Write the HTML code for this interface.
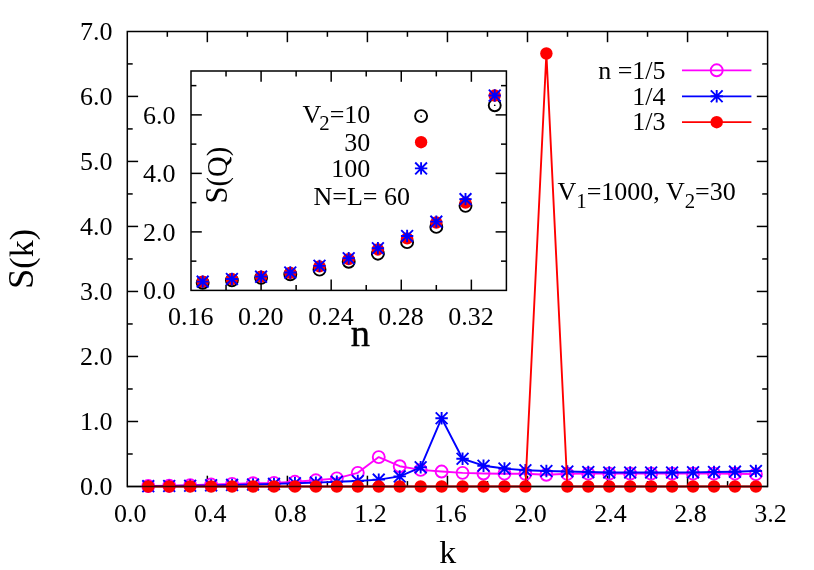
<!DOCTYPE html>
<html><head><meta charset="utf-8"><title>S(k)</title>
<style>
html,body{margin:0;padding:0;background:#fff;}
body{width:814px;height:570px;overflow:hidden;}
svg{display:block;will-change:transform;}
svg text{font-family:"Liberation Serif",serif;fill:#000;}
</style></head><body>
<svg width="814" height="570" viewBox="0 0 814 570">
<rect x="0" y="0" width="814" height="570" fill="#fff"/>
<line x1="167.32" y1="486.50" x2="167.32" y2="481.10" stroke="#000" stroke-width="1.5" />
<line x1="167.32" y1="31.40" x2="167.32" y2="36.80" stroke="#000" stroke-width="1.5" />
<line x1="207.34" y1="486.50" x2="207.34" y2="475.70" stroke="#000" stroke-width="1.5" />
<line x1="207.34" y1="31.40" x2="207.34" y2="42.20" stroke="#000" stroke-width="1.5" />
<line x1="247.36" y1="486.50" x2="247.36" y2="481.10" stroke="#000" stroke-width="1.5" />
<line x1="247.36" y1="31.40" x2="247.36" y2="36.80" stroke="#000" stroke-width="1.5" />
<line x1="287.38" y1="486.50" x2="287.38" y2="475.70" stroke="#000" stroke-width="1.5" />
<line x1="287.38" y1="31.40" x2="287.38" y2="42.20" stroke="#000" stroke-width="1.5" />
<line x1="327.39" y1="486.50" x2="327.39" y2="481.10" stroke="#000" stroke-width="1.5" />
<line x1="327.39" y1="31.40" x2="327.39" y2="36.80" stroke="#000" stroke-width="1.5" />
<line x1="367.41" y1="486.50" x2="367.41" y2="475.70" stroke="#000" stroke-width="1.5" />
<line x1="367.41" y1="31.40" x2="367.41" y2="42.20" stroke="#000" stroke-width="1.5" />
<line x1="407.43" y1="486.50" x2="407.43" y2="481.10" stroke="#000" stroke-width="1.5" />
<line x1="407.43" y1="31.40" x2="407.43" y2="36.80" stroke="#000" stroke-width="1.5" />
<line x1="447.45" y1="486.50" x2="447.45" y2="475.70" stroke="#000" stroke-width="1.5" />
<line x1="447.45" y1="31.40" x2="447.45" y2="42.20" stroke="#000" stroke-width="1.5" />
<line x1="487.47" y1="486.50" x2="487.47" y2="481.10" stroke="#000" stroke-width="1.5" />
<line x1="487.47" y1="31.40" x2="487.47" y2="36.80" stroke="#000" stroke-width="1.5" />
<line x1="527.49" y1="486.50" x2="527.49" y2="475.70" stroke="#000" stroke-width="1.5" />
<line x1="527.49" y1="31.40" x2="527.49" y2="42.20" stroke="#000" stroke-width="1.5" />
<line x1="567.51" y1="486.50" x2="567.51" y2="481.10" stroke="#000" stroke-width="1.5" />
<line x1="567.51" y1="31.40" x2="567.51" y2="36.80" stroke="#000" stroke-width="1.5" />
<line x1="607.53" y1="486.50" x2="607.53" y2="475.70" stroke="#000" stroke-width="1.5" />
<line x1="607.53" y1="31.40" x2="607.53" y2="42.20" stroke="#000" stroke-width="1.5" />
<line x1="647.54" y1="486.50" x2="647.54" y2="481.10" stroke="#000" stroke-width="1.5" />
<line x1="647.54" y1="31.40" x2="647.54" y2="36.80" stroke="#000" stroke-width="1.5" />
<line x1="687.56" y1="486.50" x2="687.56" y2="475.70" stroke="#000" stroke-width="1.5" />
<line x1="687.56" y1="31.40" x2="687.56" y2="42.20" stroke="#000" stroke-width="1.5" />
<line x1="727.58" y1="486.50" x2="727.58" y2="481.10" stroke="#000" stroke-width="1.5" />
<line x1="727.58" y1="31.40" x2="727.58" y2="36.80" stroke="#000" stroke-width="1.5" />
<line x1="127.30" y1="453.99" x2="132.70" y2="453.99" stroke="#000" stroke-width="1.5" />
<line x1="767.60" y1="453.99" x2="762.20" y2="453.99" stroke="#000" stroke-width="1.5" />
<line x1="127.30" y1="421.49" x2="138.10" y2="421.49" stroke="#000" stroke-width="1.5" />
<line x1="767.60" y1="421.49" x2="756.80" y2="421.49" stroke="#000" stroke-width="1.5" />
<line x1="127.30" y1="388.98" x2="132.70" y2="388.98" stroke="#000" stroke-width="1.5" />
<line x1="767.60" y1="388.98" x2="762.20" y2="388.98" stroke="#000" stroke-width="1.5" />
<line x1="127.30" y1="356.47" x2="138.10" y2="356.47" stroke="#000" stroke-width="1.5" />
<line x1="767.60" y1="356.47" x2="756.80" y2="356.47" stroke="#000" stroke-width="1.5" />
<line x1="127.30" y1="323.96" x2="132.70" y2="323.96" stroke="#000" stroke-width="1.5" />
<line x1="767.60" y1="323.96" x2="762.20" y2="323.96" stroke="#000" stroke-width="1.5" />
<line x1="127.30" y1="291.46" x2="138.10" y2="291.46" stroke="#000" stroke-width="1.5" />
<line x1="767.60" y1="291.46" x2="756.80" y2="291.46" stroke="#000" stroke-width="1.5" />
<line x1="127.30" y1="258.95" x2="132.70" y2="258.95" stroke="#000" stroke-width="1.5" />
<line x1="767.60" y1="258.95" x2="762.20" y2="258.95" stroke="#000" stroke-width="1.5" />
<line x1="127.30" y1="226.44" x2="138.10" y2="226.44" stroke="#000" stroke-width="1.5" />
<line x1="767.60" y1="226.44" x2="756.80" y2="226.44" stroke="#000" stroke-width="1.5" />
<line x1="127.30" y1="193.94" x2="132.70" y2="193.94" stroke="#000" stroke-width="1.5" />
<line x1="767.60" y1="193.94" x2="762.20" y2="193.94" stroke="#000" stroke-width="1.5" />
<line x1="127.30" y1="161.43" x2="138.10" y2="161.43" stroke="#000" stroke-width="1.5" />
<line x1="767.60" y1="161.43" x2="756.80" y2="161.43" stroke="#000" stroke-width="1.5" />
<line x1="127.30" y1="128.92" x2="132.70" y2="128.92" stroke="#000" stroke-width="1.5" />
<line x1="767.60" y1="128.92" x2="762.20" y2="128.92" stroke="#000" stroke-width="1.5" />
<line x1="127.30" y1="96.41" x2="138.10" y2="96.41" stroke="#000" stroke-width="1.5" />
<line x1="767.60" y1="96.41" x2="756.80" y2="96.41" stroke="#000" stroke-width="1.5" />
<line x1="127.30" y1="63.91" x2="132.70" y2="63.91" stroke="#000" stroke-width="1.5" />
<line x1="767.60" y1="63.91" x2="762.20" y2="63.91" stroke="#000" stroke-width="1.5" />
<text x="130.30" y="522.00" font-size="26" text-anchor="middle" >0.0</text>
<text x="210.34" y="522.00" font-size="26" text-anchor="middle" >0.4</text>
<text x="290.38" y="522.00" font-size="26" text-anchor="middle" >0.8</text>
<text x="370.41" y="522.00" font-size="26" text-anchor="middle" >1.2</text>
<text x="450.45" y="522.00" font-size="26" text-anchor="middle" >1.6</text>
<text x="530.49" y="522.00" font-size="26" text-anchor="middle" >2.0</text>
<text x="610.53" y="522.00" font-size="26" text-anchor="middle" >2.4</text>
<text x="690.56" y="522.00" font-size="26" text-anchor="middle" >2.8</text>
<text x="770.60" y="522.00" font-size="26" text-anchor="middle" >3.2</text>
<text x="112.40" y="495.30" font-size="26" text-anchor="end" >0.0</text>
<text x="112.40" y="430.29" font-size="26" text-anchor="end" >1.0</text>
<text x="112.40" y="365.27" font-size="26" text-anchor="end" >2.0</text>
<text x="112.40" y="300.26" font-size="26" text-anchor="end" >3.0</text>
<text x="112.40" y="235.24" font-size="26" text-anchor="end" >4.0</text>
<text x="112.40" y="170.23" font-size="26" text-anchor="end" >5.0</text>
<text x="112.40" y="105.21" font-size="26" text-anchor="end" >6.0</text>
<text x="112.40" y="40.20" font-size="26" text-anchor="end" >7.0</text>
<line x1="127.30" y1="486.50" x2="767.60" y2="486.50" stroke="#000" stroke-width="1.5" />
<polyline points="148.25,485.98 169.21,485.72 190.16,485.20 211.12,484.55 232.07,483.90 253.02,483.25 273.98,482.92 294.93,481.82 315.88,480.32 336.84,478.37 357.79,472.85 378.75,457.11 399.70,466.22 420.65,469.92 441.61,471.55 462.56,472.85 483.51,473.50 504.47,473.69 525.42,473.82 546.38,474.80 567.33,473.82 588.28,473.63 609.24,473.63 630.19,473.63 651.14,473.63 672.10,473.63 693.05,473.63 714.01,473.63 734.96,473.69 755.91,474.15" fill="none" stroke="#ff00ff" stroke-width="1.9" stroke-linejoin="round"/>
<circle cx="148.25" cy="485.98" r="6.0" fill="none" stroke="#ff00ff" stroke-width="1.9"/>
<circle cx="169.21" cy="485.72" r="6.0" fill="none" stroke="#ff00ff" stroke-width="1.9"/>
<circle cx="190.16" cy="485.20" r="6.0" fill="none" stroke="#ff00ff" stroke-width="1.9"/>
<circle cx="211.12" cy="484.55" r="6.0" fill="none" stroke="#ff00ff" stroke-width="1.9"/>
<circle cx="232.07" cy="483.90" r="6.0" fill="none" stroke="#ff00ff" stroke-width="1.9"/>
<circle cx="253.02" cy="483.25" r="6.0" fill="none" stroke="#ff00ff" stroke-width="1.9"/>
<circle cx="273.98" cy="482.92" r="6.0" fill="none" stroke="#ff00ff" stroke-width="1.9"/>
<circle cx="294.93" cy="481.82" r="6.0" fill="none" stroke="#ff00ff" stroke-width="1.9"/>
<circle cx="315.88" cy="480.32" r="6.0" fill="none" stroke="#ff00ff" stroke-width="1.9"/>
<circle cx="336.84" cy="478.37" r="6.0" fill="none" stroke="#ff00ff" stroke-width="1.9"/>
<circle cx="357.79" cy="472.85" r="6.0" fill="none" stroke="#ff00ff" stroke-width="1.9"/>
<circle cx="378.75" cy="457.11" r="6.0" fill="none" stroke="#ff00ff" stroke-width="1.9"/>
<circle cx="399.70" cy="466.22" r="6.0" fill="none" stroke="#ff00ff" stroke-width="1.9"/>
<circle cx="420.65" cy="469.92" r="6.0" fill="none" stroke="#ff00ff" stroke-width="1.9"/>
<circle cx="441.61" cy="471.55" r="6.0" fill="none" stroke="#ff00ff" stroke-width="1.9"/>
<circle cx="462.56" cy="472.85" r="6.0" fill="none" stroke="#ff00ff" stroke-width="1.9"/>
<circle cx="483.51" cy="473.50" r="6.0" fill="none" stroke="#ff00ff" stroke-width="1.9"/>
<circle cx="504.47" cy="473.69" r="6.0" fill="none" stroke="#ff00ff" stroke-width="1.9"/>
<circle cx="525.42" cy="473.82" r="6.0" fill="none" stroke="#ff00ff" stroke-width="1.9"/>
<circle cx="546.38" cy="474.80" r="6.0" fill="none" stroke="#ff00ff" stroke-width="1.9"/>
<circle cx="567.33" cy="473.82" r="6.0" fill="none" stroke="#ff00ff" stroke-width="1.9"/>
<circle cx="588.28" cy="473.63" r="6.0" fill="none" stroke="#ff00ff" stroke-width="1.9"/>
<circle cx="609.24" cy="473.63" r="6.0" fill="none" stroke="#ff00ff" stroke-width="1.9"/>
<circle cx="630.19" cy="473.63" r="6.0" fill="none" stroke="#ff00ff" stroke-width="1.9"/>
<circle cx="651.14" cy="473.63" r="6.0" fill="none" stroke="#ff00ff" stroke-width="1.9"/>
<circle cx="672.10" cy="473.63" r="6.0" fill="none" stroke="#ff00ff" stroke-width="1.9"/>
<circle cx="693.05" cy="473.63" r="6.0" fill="none" stroke="#ff00ff" stroke-width="1.9"/>
<circle cx="714.01" cy="473.63" r="6.0" fill="none" stroke="#ff00ff" stroke-width="1.9"/>
<circle cx="734.96" cy="473.69" r="6.0" fill="none" stroke="#ff00ff" stroke-width="1.9"/>
<circle cx="755.91" cy="474.15" r="6.0" fill="none" stroke="#ff00ff" stroke-width="1.9"/>
<polyline points="148.25,486.17 169.21,485.98 190.16,485.72 211.12,485.33 232.07,484.94 253.02,484.55 273.98,483.90 294.93,483.25 315.88,482.60 336.84,481.75 357.79,480.97 378.75,479.67 399.70,476.42 420.65,467.32 441.61,418.24 462.56,458.74 483.51,465.70 504.47,468.56 525.42,470.25 546.38,471.03 567.33,471.55 588.28,472.07 609.24,472.46 630.19,472.52 651.14,472.52 672.10,472.46 693.05,472.33 714.01,472.07 734.96,471.68 755.91,471.03" fill="none" stroke="#0000ff" stroke-width="1.9" stroke-linejoin="round"/>
<path d="M148.25 479.97V492.37M142.05 486.17H154.45M142.35 480.27L154.15 492.07M142.35 492.07L154.15 480.27" stroke="#0000ff" stroke-width="1.9" fill="none"/>
<path d="M169.21 479.78V492.18M163.01 485.98H175.41M163.31 480.08L175.11 491.88M163.31 491.88L175.11 480.08" stroke="#0000ff" stroke-width="1.9" fill="none"/>
<path d="M190.16 479.52V491.92M183.96 485.72H196.36M184.26 479.82L196.06 491.62M184.26 491.62L196.06 479.82" stroke="#0000ff" stroke-width="1.9" fill="none"/>
<path d="M211.12 479.13V491.53M204.92 485.33H217.32M205.22 479.43L217.02 491.23M205.22 491.23L217.02 479.43" stroke="#0000ff" stroke-width="1.9" fill="none"/>
<path d="M232.07 478.74V491.14M225.87 484.94H238.27M226.17 479.04L237.97 490.84M226.17 490.84L237.97 479.04" stroke="#0000ff" stroke-width="1.9" fill="none"/>
<path d="M253.02 478.35V490.75M246.82 484.55H259.22M247.12 478.65L258.92 490.45M247.12 490.45L258.92 478.65" stroke="#0000ff" stroke-width="1.9" fill="none"/>
<path d="M273.98 477.70V490.10M267.78 483.90H280.18M268.08 478.00L279.88 489.80M268.08 489.80L279.88 478.00" stroke="#0000ff" stroke-width="1.9" fill="none"/>
<path d="M294.93 477.05V489.45M288.73 483.25H301.13M289.03 477.35L300.83 489.15M289.03 489.15L300.83 477.35" stroke="#0000ff" stroke-width="1.9" fill="none"/>
<path d="M315.88 476.40V488.80M309.68 482.60H322.08M309.98 476.70L321.78 488.50M309.98 488.50L321.78 476.70" stroke="#0000ff" stroke-width="1.9" fill="none"/>
<path d="M336.84 475.55V487.95M330.64 481.75H343.04M330.94 475.85L342.74 487.65M330.94 487.65L342.74 475.85" stroke="#0000ff" stroke-width="1.9" fill="none"/>
<path d="M357.79 474.77V487.17M351.59 480.97H363.99M351.89 475.07L363.69 486.87M351.89 486.87L363.69 475.07" stroke="#0000ff" stroke-width="1.9" fill="none"/>
<path d="M378.75 473.47V485.87M372.55 479.67H384.95M372.85 473.77L384.65 485.57M372.85 485.57L384.65 473.77" stroke="#0000ff" stroke-width="1.9" fill="none"/>
<path d="M399.70 470.22V482.62M393.50 476.42H405.90M393.80 470.52L405.60 482.32M393.80 482.32L405.60 470.52" stroke="#0000ff" stroke-width="1.9" fill="none"/>
<path d="M420.65 461.12V473.52M414.45 467.32H426.85M414.75 461.42L426.55 473.22M414.75 473.22L426.55 461.42" stroke="#0000ff" stroke-width="1.9" fill="none"/>
<path d="M441.61 412.04V424.44M435.41 418.24H447.81M435.71 412.34L447.51 424.13M435.71 424.13L447.51 412.34" stroke="#0000ff" stroke-width="1.9" fill="none"/>
<path d="M462.56 452.54V464.94M456.36 458.74H468.76M456.66 452.84L468.46 464.64M456.66 464.64L468.46 452.84" stroke="#0000ff" stroke-width="1.9" fill="none"/>
<path d="M483.51 459.50V471.90M477.31 465.70H489.71M477.61 459.80L489.41 471.60M477.61 471.60L489.41 459.80" stroke="#0000ff" stroke-width="1.9" fill="none"/>
<path d="M504.47 462.36V474.76M498.27 468.56H510.67M498.57 462.66L510.37 474.46M498.57 474.46L510.37 462.66" stroke="#0000ff" stroke-width="1.9" fill="none"/>
<path d="M525.42 464.05V476.45M519.22 470.25H531.62M519.52 464.35L531.32 476.15M519.52 476.15L531.32 464.35" stroke="#0000ff" stroke-width="1.9" fill="none"/>
<path d="M546.38 464.83V477.23M540.18 471.03H552.58M540.48 465.13L552.28 476.93M540.48 476.93L552.28 465.13" stroke="#0000ff" stroke-width="1.9" fill="none"/>
<path d="M567.33 465.35V477.75M561.13 471.55H573.53M561.43 465.65L573.23 477.45M561.43 477.45L573.23 465.65" stroke="#0000ff" stroke-width="1.9" fill="none"/>
<path d="M588.28 465.87V478.27M582.08 472.07H594.48M582.38 466.17L594.18 477.97M582.38 477.97L594.18 466.17" stroke="#0000ff" stroke-width="1.9" fill="none"/>
<path d="M609.24 466.26V478.66M603.04 472.46H615.44M603.34 466.56L615.14 478.36M603.34 478.36L615.14 466.56" stroke="#0000ff" stroke-width="1.9" fill="none"/>
<path d="M630.19 466.32V478.72M623.99 472.52H636.39M624.29 466.62L636.09 478.42M624.29 478.42L636.09 466.62" stroke="#0000ff" stroke-width="1.9" fill="none"/>
<path d="M651.14 466.32V478.72M644.94 472.52H657.34M645.24 466.62L657.04 478.42M645.24 478.42L657.04 466.62" stroke="#0000ff" stroke-width="1.9" fill="none"/>
<path d="M672.10 466.26V478.66M665.90 472.46H678.30M666.20 466.56L678.00 478.36M666.20 478.36L678.00 466.56" stroke="#0000ff" stroke-width="1.9" fill="none"/>
<path d="M693.05 466.13V478.53M686.85 472.33H699.25M687.15 466.43L698.95 478.23M687.15 478.23L698.95 466.43" stroke="#0000ff" stroke-width="1.9" fill="none"/>
<path d="M714.01 465.87V478.27M707.81 472.07H720.21M708.11 466.17L719.91 477.97M708.11 477.97L719.91 466.17" stroke="#0000ff" stroke-width="1.9" fill="none"/>
<path d="M734.96 465.48V477.88M728.76 471.68H741.16M729.06 465.78L740.86 477.58M729.06 477.58L740.86 465.78" stroke="#0000ff" stroke-width="1.9" fill="none"/>
<path d="M755.91 464.83V477.23M749.71 471.03H762.11M750.01 465.13L761.81 476.93M750.01 476.93L761.81 465.13" stroke="#0000ff" stroke-width="1.9" fill="none"/>
<polyline points="148.25,486.50 169.21,486.50 190.16,486.50 211.12,486.50 232.07,486.50 253.02,486.50 273.98,486.50 294.93,486.50 315.88,486.50 336.84,486.50 357.79,486.50 378.75,486.50 399.70,486.50 420.65,486.50 441.61,486.50 462.56,486.50 483.51,486.50 504.47,486.50 525.42,486.50 546.38,53.50 567.33,486.50 588.28,486.50 609.24,486.50 630.19,486.50 651.14,486.50 672.10,486.50 693.05,486.50 714.01,486.50 734.96,486.50 755.91,486.50" fill="none" stroke="#ff0000" stroke-width="1.9" stroke-linejoin="round"/>
<circle cx="148.25" cy="486.50" r="6.2" fill="#ff0000"/>
<circle cx="169.21" cy="486.50" r="6.2" fill="#ff0000"/>
<circle cx="190.16" cy="486.50" r="6.2" fill="#ff0000"/>
<circle cx="211.12" cy="486.50" r="6.2" fill="#ff0000"/>
<circle cx="232.07" cy="486.50" r="6.2" fill="#ff0000"/>
<circle cx="253.02" cy="486.50" r="6.2" fill="#ff0000"/>
<circle cx="273.98" cy="486.50" r="6.2" fill="#ff0000"/>
<circle cx="294.93" cy="486.50" r="6.2" fill="#ff0000"/>
<circle cx="315.88" cy="486.50" r="6.2" fill="#ff0000"/>
<circle cx="336.84" cy="486.50" r="6.2" fill="#ff0000"/>
<circle cx="357.79" cy="486.50" r="6.2" fill="#ff0000"/>
<circle cx="378.75" cy="486.50" r="6.2" fill="#ff0000"/>
<circle cx="399.70" cy="486.50" r="6.2" fill="#ff0000"/>
<circle cx="420.65" cy="486.50" r="6.2" fill="#ff0000"/>
<circle cx="441.61" cy="486.50" r="6.2" fill="#ff0000"/>
<circle cx="462.56" cy="486.50" r="6.2" fill="#ff0000"/>
<circle cx="483.51" cy="486.50" r="6.2" fill="#ff0000"/>
<circle cx="504.47" cy="486.50" r="6.2" fill="#ff0000"/>
<circle cx="525.42" cy="486.50" r="6.2" fill="#ff0000"/>
<circle cx="546.38" cy="53.50" r="6.2" fill="#ff0000"/>
<circle cx="567.33" cy="486.50" r="6.2" fill="#ff0000"/>
<circle cx="588.28" cy="486.50" r="6.2" fill="#ff0000"/>
<circle cx="609.24" cy="486.50" r="6.2" fill="#ff0000"/>
<circle cx="630.19" cy="486.50" r="6.2" fill="#ff0000"/>
<circle cx="651.14" cy="486.50" r="6.2" fill="#ff0000"/>
<circle cx="672.10" cy="486.50" r="6.2" fill="#ff0000"/>
<circle cx="693.05" cy="486.50" r="6.2" fill="#ff0000"/>
<circle cx="714.01" cy="486.50" r="6.2" fill="#ff0000"/>
<circle cx="734.96" cy="486.50" r="6.2" fill="#ff0000"/>
<circle cx="755.91" cy="486.50" r="6.2" fill="#ff0000"/>
<path d="M127.3 486.5V31.4H767.6V486.5" fill="none" stroke="#000" stroke-width="1.5" stroke-linecap="square"/>
<line x1="127.30" y1="486.50" x2="767.60" y2="486.50" stroke="#000" stroke-width="1.3" opacity="0.75"/>
<line x1="682.00" y1="70.30" x2="751.40" y2="70.30" stroke="#ff00ff" stroke-width="1.7" />
<text x="665.60" y="78.70" font-size="26" text-anchor="end" >n =1/5</text>
<line x1="682.00" y1="96.30" x2="751.40" y2="96.30" stroke="#0000ff" stroke-width="1.7" />
<text x="665.60" y="104.60" font-size="26" text-anchor="end" >1/4</text>
<line x1="682.00" y1="122.20" x2="751.40" y2="122.20" stroke="#ff0000" stroke-width="1.7" />
<text x="665.60" y="130.00" font-size="26" text-anchor="end" >1/3</text>
<circle cx="716.70" cy="70.30" r="6.0" fill="none" stroke="#ff00ff" stroke-width="1.9"/>
<path d="M716.70 90.10V102.50M710.50 96.30H722.90M710.80 90.40L722.60 102.20M710.80 102.20L722.60 90.40" stroke="#0000ff" stroke-width="1.9" fill="none"/>
<circle cx="716.70" cy="122.20" r="6.2" fill="#ff0000"/>
<text x="557.50" y="200.00" font-size="26" text-anchor="start" >V<tspan dy="7.6" font-size="20.8">1</tspan><tspan dy="-7.6">=1000, V</tspan><tspan dy="7.6" font-size="20.8">2</tspan><tspan dy="-7.6">=30</tspan></text>
<text transform="translate(447.6,562.7) scale(1.06,1)" font-size="32" text-anchor="middle">k</text>
<text transform="translate(33.1,259.0) rotate(-90)" font-size="34" text-anchor="middle"><tspan font-size="36.6">S</tspan>(k)</text>
<rect x="191.0" y="71.0" width="315.40" height="219.40" fill="#fff" stroke="none"/>
<line x1="226.04" y1="290.40" x2="226.04" y2="285.00" stroke="#000" stroke-width="1.5" />
<line x1="226.04" y1="71.00" x2="226.04" y2="76.40" stroke="#000" stroke-width="1.5" />
<line x1="261.09" y1="290.40" x2="261.09" y2="279.60" stroke="#000" stroke-width="1.5" />
<line x1="261.09" y1="71.00" x2="261.09" y2="81.80" stroke="#000" stroke-width="1.5" />
<line x1="296.13" y1="290.40" x2="296.13" y2="285.00" stroke="#000" stroke-width="1.5" />
<line x1="296.13" y1="71.00" x2="296.13" y2="76.40" stroke="#000" stroke-width="1.5" />
<line x1="331.18" y1="290.40" x2="331.18" y2="279.60" stroke="#000" stroke-width="1.5" />
<line x1="331.18" y1="71.00" x2="331.18" y2="81.80" stroke="#000" stroke-width="1.5" />
<line x1="366.22" y1="290.40" x2="366.22" y2="285.00" stroke="#000" stroke-width="1.5" />
<line x1="366.22" y1="71.00" x2="366.22" y2="76.40" stroke="#000" stroke-width="1.5" />
<line x1="401.27" y1="290.40" x2="401.27" y2="279.60" stroke="#000" stroke-width="1.5" />
<line x1="401.27" y1="71.00" x2="401.27" y2="81.80" stroke="#000" stroke-width="1.5" />
<line x1="436.31" y1="290.40" x2="436.31" y2="285.00" stroke="#000" stroke-width="1.5" />
<line x1="436.31" y1="71.00" x2="436.31" y2="76.40" stroke="#000" stroke-width="1.5" />
<line x1="471.36" y1="290.40" x2="471.36" y2="279.60" stroke="#000" stroke-width="1.5" />
<line x1="471.36" y1="71.00" x2="471.36" y2="81.80" stroke="#000" stroke-width="1.5" />
<line x1="191.00" y1="261.15" x2="196.40" y2="261.15" stroke="#000" stroke-width="1.5" />
<line x1="506.40" y1="261.15" x2="501.00" y2="261.15" stroke="#000" stroke-width="1.5" />
<line x1="191.00" y1="231.89" x2="201.80" y2="231.89" stroke="#000" stroke-width="1.5" />
<line x1="506.40" y1="231.89" x2="495.60" y2="231.89" stroke="#000" stroke-width="1.5" />
<line x1="191.00" y1="202.64" x2="196.40" y2="202.64" stroke="#000" stroke-width="1.5" />
<line x1="506.40" y1="202.64" x2="501.00" y2="202.64" stroke="#000" stroke-width="1.5" />
<line x1="191.00" y1="173.39" x2="201.80" y2="173.39" stroke="#000" stroke-width="1.5" />
<line x1="506.40" y1="173.39" x2="495.60" y2="173.39" stroke="#000" stroke-width="1.5" />
<line x1="191.00" y1="144.13" x2="196.40" y2="144.13" stroke="#000" stroke-width="1.5" />
<line x1="506.40" y1="144.13" x2="501.00" y2="144.13" stroke="#000" stroke-width="1.5" />
<line x1="191.00" y1="114.88" x2="201.80" y2="114.88" stroke="#000" stroke-width="1.5" />
<line x1="506.40" y1="114.88" x2="495.60" y2="114.88" stroke="#000" stroke-width="1.5" />
<line x1="191.00" y1="85.63" x2="196.40" y2="85.63" stroke="#000" stroke-width="1.5" />
<line x1="506.40" y1="85.63" x2="501.00" y2="85.63" stroke="#000" stroke-width="1.5" />
<text x="190.70" y="324.70" font-size="26" text-anchor="middle" >0.16</text>
<text x="260.79" y="324.70" font-size="26" text-anchor="middle" >0.20</text>
<text x="330.88" y="324.70" font-size="26" text-anchor="middle" >0.24</text>
<text x="400.97" y="324.70" font-size="26" text-anchor="middle" >0.28</text>
<text x="471.06" y="324.70" font-size="26" text-anchor="middle" >0.32</text>
<text x="175.40" y="299.30" font-size="26" text-anchor="end" >0.0</text>
<text x="175.40" y="240.79" font-size="26" text-anchor="end" >2.0</text>
<text x="175.40" y="182.29" font-size="26" text-anchor="end" >4.0</text>
<text x="175.40" y="123.78" font-size="26" text-anchor="end" >6.0</text>
<circle cx="202.68" cy="282.79" r="6.0" fill="none" stroke="#000" stroke-width="1.9"/>
<circle cx="202.68" cy="282.79" r="0.85" fill="#000"/>
<circle cx="231.89" cy="280.31" r="6.0" fill="none" stroke="#000" stroke-width="1.9"/>
<circle cx="231.89" cy="280.31" r="0.85" fill="#000"/>
<circle cx="261.09" cy="277.82" r="6.0" fill="none" stroke="#000" stroke-width="1.9"/>
<circle cx="261.09" cy="277.82" r="0.85" fill="#000"/>
<circle cx="290.29" cy="274.31" r="6.0" fill="none" stroke="#000" stroke-width="1.9"/>
<circle cx="290.29" cy="274.31" r="0.85" fill="#000"/>
<circle cx="319.50" cy="269.63" r="6.0" fill="none" stroke="#000" stroke-width="1.9"/>
<circle cx="319.50" cy="269.63" r="0.85" fill="#000"/>
<circle cx="348.70" cy="261.73" r="6.0" fill="none" stroke="#000" stroke-width="1.9"/>
<circle cx="348.70" cy="261.73" r="0.85" fill="#000"/>
<circle cx="377.90" cy="253.69" r="6.0" fill="none" stroke="#000" stroke-width="1.9"/>
<circle cx="377.90" cy="253.69" r="0.85" fill="#000"/>
<circle cx="407.11" cy="242.13" r="6.0" fill="none" stroke="#000" stroke-width="1.9"/>
<circle cx="407.11" cy="242.13" r="0.85" fill="#000"/>
<circle cx="436.31" cy="226.92" r="6.0" fill="none" stroke="#000" stroke-width="1.9"/>
<circle cx="436.31" cy="226.92" r="0.85" fill="#000"/>
<circle cx="465.51" cy="205.86" r="6.0" fill="none" stroke="#000" stroke-width="1.9"/>
<circle cx="465.51" cy="205.86" r="0.85" fill="#000"/>
<circle cx="494.72" cy="105.23" r="6.0" fill="none" stroke="#000" stroke-width="1.9"/>
<circle cx="494.72" cy="105.23" r="0.85" fill="#000"/>
<circle cx="202.68" cy="281.62" r="6.2" fill="#ff0000"/>
<circle cx="231.89" cy="279.14" r="6.2" fill="#ff0000"/>
<circle cx="261.09" cy="276.65" r="6.2" fill="#ff0000"/>
<circle cx="290.29" cy="272.85" r="6.2" fill="#ff0000"/>
<circle cx="319.50" cy="266.41" r="6.2" fill="#ff0000"/>
<circle cx="348.70" cy="259.10" r="6.2" fill="#ff0000"/>
<circle cx="377.90" cy="249.45" r="6.2" fill="#ff0000"/>
<circle cx="407.11" cy="238.33" r="6.2" fill="#ff0000"/>
<circle cx="436.31" cy="222.53" r="6.2" fill="#ff0000"/>
<circle cx="465.51" cy="202.64" r="6.2" fill="#ff0000"/>
<circle cx="494.72" cy="95.57" r="6.2" fill="#ff0000"/>
<path d="M202.68 275.42V287.82M196.48 281.62H208.88M196.78 275.72L208.58 287.52M196.78 287.52L208.58 275.72" stroke="#0000ff" stroke-width="1.9" fill="none"/>
<path d="M231.89 272.79V285.19M225.69 278.99H238.09M225.99 273.09L237.79 284.89M225.99 284.89L237.79 273.09" stroke="#0000ff" stroke-width="1.9" fill="none"/>
<path d="M261.09 270.45V282.85M254.89 276.65H267.29M255.19 270.75L266.99 282.55M255.19 282.55L266.99 270.75" stroke="#0000ff" stroke-width="1.9" fill="none"/>
<path d="M290.29 266.36V278.76M284.09 272.56H296.49M284.39 266.66L296.19 278.46M284.39 278.46L296.19 266.66" stroke="#0000ff" stroke-width="1.9" fill="none"/>
<path d="M319.50 259.63V272.03M313.30 265.83H325.70M313.60 259.93L325.40 271.73M313.60 271.73L325.40 259.93" stroke="#0000ff" stroke-width="1.9" fill="none"/>
<path d="M348.70 252.02V264.42M342.50 258.22H354.90M342.80 252.32L354.60 264.12M342.80 264.12L354.60 252.32" stroke="#0000ff" stroke-width="1.9" fill="none"/>
<path d="M377.90 242.08V254.48M371.70 248.28H384.10M372.00 242.38L383.80 254.18M372.00 254.18L383.80 242.38" stroke="#0000ff" stroke-width="1.9" fill="none"/>
<path d="M407.11 229.79V242.19M400.91 235.99H413.31M401.21 230.09L413.01 241.89M401.21 241.89L413.01 230.09" stroke="#0000ff" stroke-width="1.9" fill="none"/>
<path d="M436.31 215.45V227.85M430.11 221.65H442.51M430.41 215.75L442.21 227.55M430.41 227.55L442.21 215.75" stroke="#0000ff" stroke-width="1.9" fill="none"/>
<path d="M465.51 192.93V205.33M459.31 199.13H471.71M459.61 193.23L471.41 205.03M459.61 205.03L471.41 193.23" stroke="#0000ff" stroke-width="1.9" fill="none"/>
<path d="M494.72 89.37V101.77M488.52 95.57H500.92M488.82 89.67L500.62 101.47M488.82 101.47L500.62 89.67" stroke="#0000ff" stroke-width="1.9" fill="none"/>
<rect x="191.0" y="71.0" width="315.40" height="219.40" fill="none" stroke="#000" stroke-width="1.5"/>
<circle cx="421.10" cy="116.10" r="6.0" fill="none" stroke="#000" stroke-width="1.9"/>
<circle cx="421.10" cy="116.10" r="0.85" fill="#000"/>
<circle cx="421.10" cy="142.20" r="6.2" fill="#ff0000"/>
<path d="M421.10 162.20V174.60M414.90 168.40H427.30M415.20 162.50L427.00 174.30M415.20 174.30L427.00 162.50" stroke="#0000ff" stroke-width="1.9" fill="none"/>
<text x="370.30" y="122.50" font-size="26" text-anchor="end" >V<tspan dy="7.6" dx="-2" font-size="20.8">2</tspan><tspan dy="-7.6">=10</tspan></text>
<text x="370.30" y="150.70" font-size="26" text-anchor="end" >30</text>
<text x="370.30" y="177.00" font-size="26" text-anchor="end" >100</text>
<text x="410.00" y="205.10" font-size="26" text-anchor="end" >N=L= 60</text>
<text transform="translate(360.4,346.2) scale(1.04,1)" font-size="37" text-anchor="middle" stroke="#000" stroke-width="0.35">n</text>
<text transform="translate(227.2,175.1) rotate(-90)" font-size="28.5" text-anchor="middle"><tspan font-size="30.6">S</tspan>(Q)</text>
</svg>
</body></html>
